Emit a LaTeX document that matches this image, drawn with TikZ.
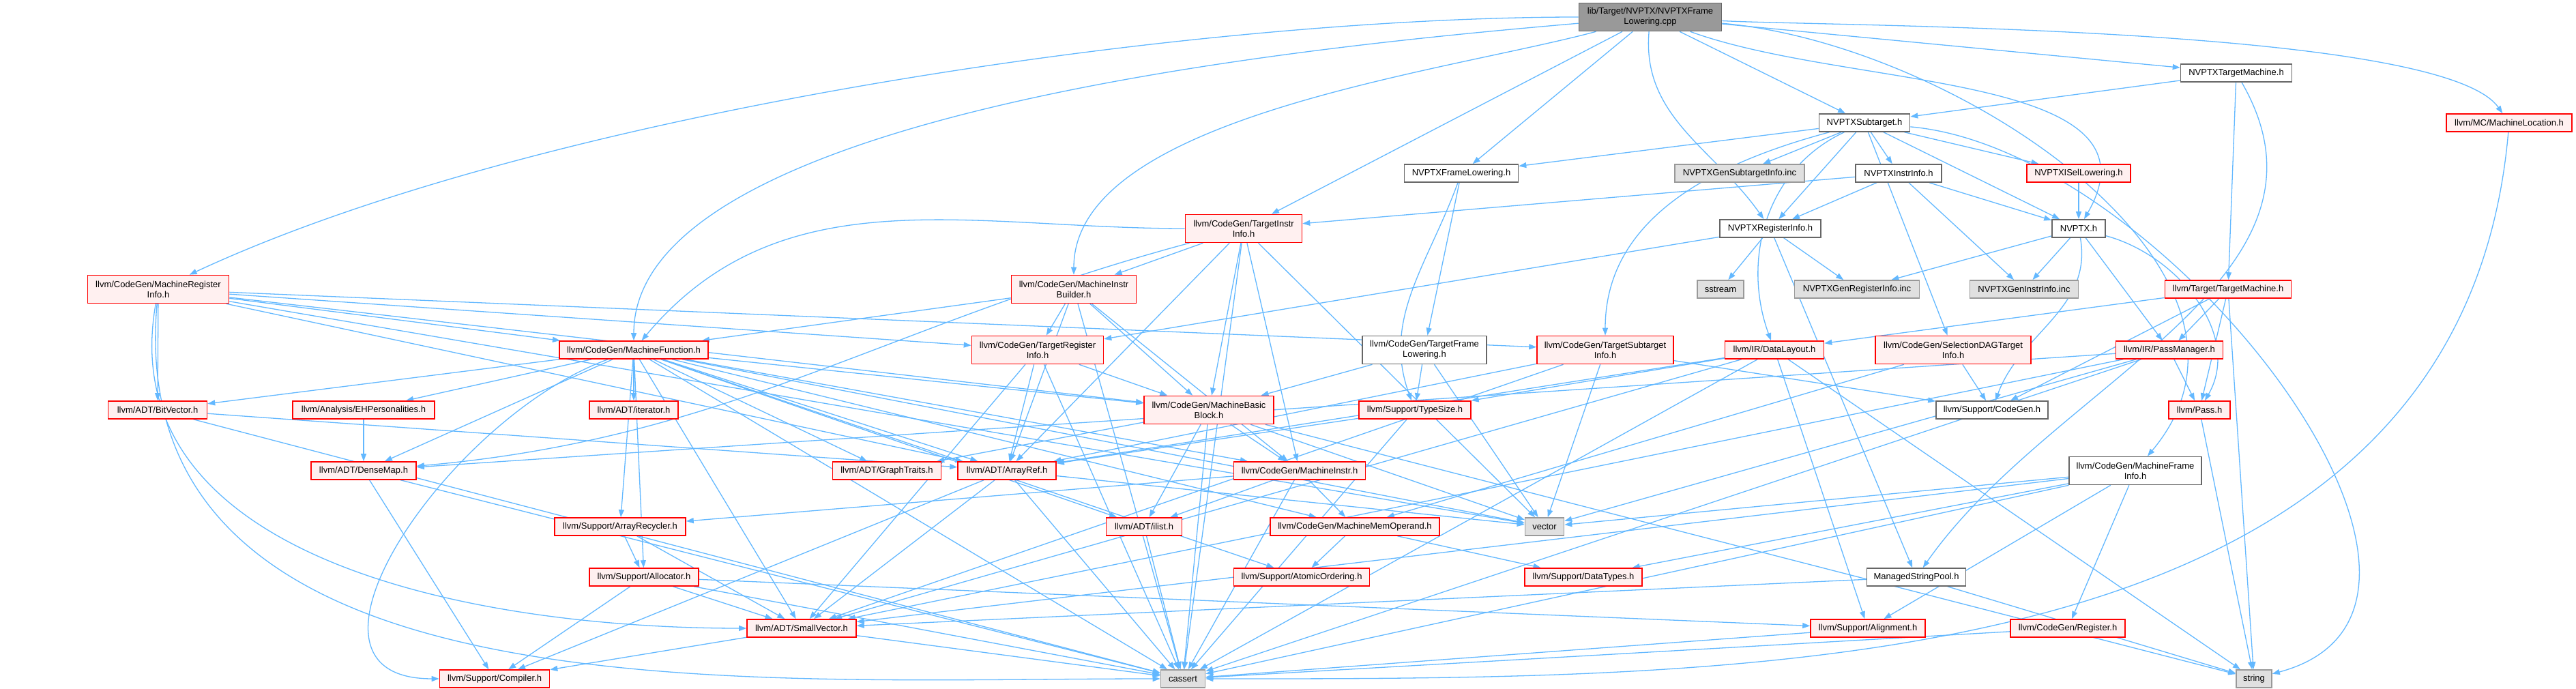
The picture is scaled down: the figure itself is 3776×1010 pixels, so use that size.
\documentclass[tikz,border=0pt]{standalone}
\usepackage{fontspec}
\setsansfont{Liberation Sans}
\usepackage{xcolor}
\usepackage{tikz}
\usetikzlibrary{arrows.meta,backgrounds}
\definecolor{hdrblue}{HTML}{63B8FF}
\definecolor{hdrred}{HTML}{FF0000}
\definecolor{hdrpink}{HTML}{FFF0F0}
\definecolor{hdrgrey}{HTML}{999999}
\definecolor{hdrdark}{HTML}{666666}
\definecolor{hdrlight}{HTML}{E0E0E0}
% one pixel of the picture is 0.2pt
\tikzset{
  hdrw/.style     = {minimum width=#1*0.2pt},
  hdrbase/.style  = {rectangle, line width=0.32pt, align=center, inner sep=0.4pt,
                     font=\sffamily\fontsize{2.6}{3}\selectfont, minimum height=5.2pt},
  hdrroot/.style  = {hdrbase, draw=hdrdark, fill=hdrgrey, minimum height=8.2pt},
  hdrplain/.style = {hdrbase, draw=hdrdark, fill=white},
  hdrtrunc/.style = {hdrbase, draw=hdrred, fill=hdrpink},
  hdrsys/.style   = {hdrbase, draw=hdrgrey, fill=hdrlight},
  hdrtall/.style  = {minimum height=8.2pt},
  hdrflow/.style  = {-{Triangle[length=2.2pt,width=1.6pt]}, draw=hdrblue, line width=0.26pt},
}

\begin{document}
\begin{tikzpicture}[x=0.2pt,y=-0.2pt]
  \useasboundingbox (0,0) rectangle (3776,1010);

  \node[hdrroot, hdrw=209] (main) at (2419,25) {lib/Target/NVPTX/NVPTXFrame\\Lowering.cpp};

  \node[hdrplain, hdrw=163] (ntm)  at (3278,107) {NVPTXTargetMachine.h};
  \node[hdrplain, hdrw=133] (nst)  at (2733,180) {NVPTXSubtarget.h};
  \node[hdrtrunc, hdrw=184] (mloc) at (3678,180) {llvm/MC/MachineLocation.h};

  \node[hdrplain, hdrw=167] (nfl)   at (2142,254) {NVPTXFrameLowering.h};
  \node[hdrsys,   hdrw=190] (gsi)   at (2550,254) {NVPTXGenSubtargetInfo.inc};
  \node[hdrplain, hdrw=126] (nii)   at (2783,254) {NVPTXInstrInfo.h};
  \node[hdrtrunc, hdrw=152] (nisel) at (3047,254) {NVPTXISelLowering.h};

  \node[hdrtrunc, hdrtall, hdrw=171] (tii) at (1823,335) {llvm/CodeGen/TargetInstr\\Info.h};
  \node[hdrplain, hdrw=148] (nri)   at (2595,335) {NVPTXRegisterInfo.h};
  \node[hdrplain, hdrw=78]  (nvptx) at (3047,335) {NVPTX.h};

  \node[hdrtrunc, hdrtall, hdrw=207] (mri) at (232,424)  {llvm/CodeGen/MachineRegister\\Info.h};
  \node[hdrtrunc, hdrtall, hdrw=183] (mib) at (1574,424) {llvm/CodeGen/MachineInstr\\Builder.h};
  \node[hdrsys,   hdrw=68]  (sstream) at (2522,424) {sstream};
  \node[hdrsys,   hdrw=183] (gri)     at (2722,424) {NVPTXGenRegisterInfo.inc};
  \node[hdrsys,   hdrw=159] (gii)     at (2967,424) {NVPTXGenInstrInfo.inc};
  \node[hdrtrunc, hdrw=185] (tm)      at (3266,424) {llvm/Target/TargetMachine.h};

  \node[hdrtrunc, hdrw=218] (mf) at (929,513) {llvm/CodeGen/MachineFunction.h};
  \node[hdrtrunc, hdrtall, hdrw=193] (tri)  at (1521,513) {llvm/CodeGen/TargetRegister\\Info.h};
  \node[hdrplain, hdrtall, hdrw=182] (tfl)  at (2088,513) {llvm/CodeGen/TargetFrame\\Lowering.h};
  \node[hdrtrunc, hdrtall, hdrw=200] (tsi)  at (2353,513) {llvm/CodeGen/TargetSubtarget\\Info.h};
  \node[hdrtrunc, hdrw=145] (dl) at (2601,513) {llvm/IR/DataLayout.h};
  \node[hdrtrunc, hdrtall, hdrw=228] (sdag) at (2863,513) {llvm/CodeGen/SelectionDAGTarget\\Info.h};
  \node[hdrtrunc, hdrw=157] (pm) at (3180,513) {llvm/IR/PassManager.h};

  \node[hdrtrunc, hdrw=145] (bv)   at (231,601)  {llvm/ADT/BitVector.h};
  \node[hdrtrunc, hdrw=208] (ehp)  at (533,601)  {llvm/Analysis/EHPersonalities.h};
  \node[hdrtrunc, hdrw=130] (iter) at (929,601)  {llvm/ADT/iterator.h};
  \node[hdrtrunc, hdrtall, hdrw=190] (mbb) at (1772,601) {llvm/CodeGen/MachineBasic\\Block.h};
  \node[hdrtrunc, hdrw=164] (ts)   at (2074,601) {llvm/Support/TypeSize.h};
  \node[hdrplain, hdrw=164] (scg)  at (2920,601) {llvm/Support/CodeGen.h};
  \node[hdrtrunc, hdrw=90]  (pass) at (3224,601) {llvm/Pass.h};

  \node[hdrtrunc, hdrw=154] (dm) at (533,690)  {llvm/ADT/DenseMap.h};
  \node[hdrtrunc, hdrw=159] (gt) at (1300,690) {llvm/ADT/GraphTraits.h};
  \node[hdrtrunc, hdrw=144] (ar) at (1476,690) {llvm/ADT/ArrayRef.h};
  \node[hdrtrunc, hdrw=193] (mi) at (1905,690) {llvm/CodeGen/MachineInstr.h};
  \node[hdrplain, hdrtall, hdrw=194] (mfi) at (3130,690) {llvm/CodeGen/MachineFrame\\Info.h};

  \node[hdrtrunc, hdrw=192] (arec)   at (909,772)  {llvm/Support/ArrayRecycler.h};
  \node[hdrtrunc, hdrw=111] (ilist)  at (1677,772) {llvm/ADT/ilist.h};
  \node[hdrtrunc, hdrw=248] (mmo)    at (1986,772) {llvm/CodeGen/MachineMemOperand.h};
  \node[hdrsys,   hdrw=57]  (vector) at (2264,772) {vector};

  \node[hdrtrunc, hdrw=160] (alloc) at (944,846)  {llvm/Support/Allocator.h};
  \node[hdrtrunc, hdrw=199] (ao)    at (1908,846) {llvm/Support/AtomicOrdering.h};
  \node[hdrtrunc, hdrw=172] (dt)    at (2321,846) {llvm/Support/DataTypes.h};
  \node[hdrplain, hdrw=145] (msp)   at (2809,846) {ManagedStringPool.h};

  \node[hdrtrunc, hdrw=160] (sv)    at (1175,921) {llvm/ADT/SmallVector.h};
  \node[hdrtrunc, hdrw=168] (align) at (2738,921) {llvm/Support/Alignment.h};
  \node[hdrtrunc, hdrw=168] (reg)   at (3031,921) {llvm/CodeGen/Register.h};

  \node[hdrtrunc, hdrw=161] (comp)    at (725,995)  {llvm/Support/Compiler.h};
  \node[hdrsys,   hdrw=65]  (cassert) at (1734,995) {cassert};
  \node[hdrsys,   hdrw=52]  (string)  at (3304,995) {string};

  % include edges, kept under the boxes
  \begin{scope}[on background layer]
  \draw[hdrflow] (main) -- (nfl);  \draw[hdrflow] (main) -- (nst);  \draw[hdrflow] (main) -- (ntm);  \draw[hdrflow] (main) -- (tii);
  \draw[hdrflow] (main) to[out=180,in=25,looseness=0.7] (mri);
  \draw[hdrflow] (main) to[out=185,in=90,looseness=0.6] (mf);
  \draw[hdrflow] (main) to[out=195,in=90,looseness=0.7] (mib);
  \draw[hdrflow] (main) to[out=-95,in=125] (nri);
  \draw[hdrflow] (main) to[out=-20,in=60] (nvptx);
  \draw[hdrflow] (main) to[out=-3,in=125,looseness=0.35] (mloc);
  \draw[hdrflow] (main) to[out=-5,in=50] (mfi);

  \draw[hdrflow] (nfl) -- (tfl);  \draw[hdrflow] (nfl) to[out=-110,in=110] (ts);
  \draw[hdrflow] (ntm) -- (nst);  \draw[hdrflow] (ntm) -- (tm);  \draw[hdrflow] (ntm) to[out=-60,in=55] (msp);

  \draw[hdrflow] (nst) -- (nfl);  \draw[hdrflow] (nst) -- (gsi);  \draw[hdrflow] (nst) -- (nii);  \draw[hdrflow] (nst) -- (nri);
  \draw[hdrflow] (nst) -- (nisel);  \draw[hdrflow] (nst) -- (nvptx);  \draw[hdrflow] (nst) -- (sdag);
  \draw[hdrflow] (nst) to[out=195,in=90] (tsi);
  \draw[hdrflow] (nst) to[out=205,in=110] (dl);
  \draw[hdrflow] (nst) to[out=-5,in=15] (string);

  \draw[hdrflow] (nii) -- (nvptx);  \draw[hdrflow] (nii) -- (nri);  \draw[hdrflow] (nii) -- (tii);  \draw[hdrflow] (nii) -- (gii);
  \draw[hdrflow] (nisel) -- (nvptx);
  \draw[hdrflow] (nri) -- (msp);  \draw[hdrflow] (nri) -- (tri);  \draw[hdrflow] (nri) -- (sstream);  \draw[hdrflow] (nri) -- (gri);
  \draw[hdrflow] (nvptx) -- (pm);  \draw[hdrflow] (nvptx) -- (gii);  \draw[hdrflow] (nvptx) -- (gri);
  \draw[hdrflow] (nvptx) to[out=-15,in=60] (pass);
  \draw[hdrflow] (nvptx) to[out=-80,in=70] (scg);
  \draw[hdrflow] (tm) -- (dl);  \draw[hdrflow] (tm) -- (scg);  \draw[hdrflow] (tm) -- (pm);  \draw[hdrflow] (tm) -- (pass);  \draw[hdrflow] (tm) -- (string);

  \draw[hdrflow] (tii) to[out=180,in=50] (mf);
  \draw[hdrflow] (tii) to[out=195,in=5] (dm);
  \draw[hdrflow] (tii) -- (mib);  \draw[hdrflow] (tii) -- (ar);  \draw[hdrflow] (tii) -- (mbb);  \draw[hdrflow] (tii) -- (mi);
  \draw[hdrflow] (tii) -- (vector);  \draw[hdrflow] (tii) -- (cassert);

  \draw[hdrflow] (mri) -- (mf);  \draw[hdrflow] (mri) -- (bv);  \draw[hdrflow] (mri) -- (tri);  \draw[hdrflow] (mri) -- (tsi);
  \draw[hdrflow] (mri) -- (mbb);  \draw[hdrflow] (mri) -- (ar);  \draw[hdrflow] (mri) -- (vector);
  \draw[hdrflow] (mri) to[out=-100,in=180] (sv);
  \draw[hdrflow] (mri) to[out=-95,in=180] (cassert);

  \draw[hdrflow] (mib) -- (mf);  \draw[hdrflow] (mib) -- (tri);  \draw[hdrflow] (mib) -- (mbb);  \draw[hdrflow] (mib) -- (mi);
  \draw[hdrflow] (mib) -- (ar);  \draw[hdrflow] (mib) -- (cassert);

  \draw[hdrflow] (mf) -- (ar);  \draw[hdrflow] (mf) -- (bv);  \draw[hdrflow] (mf) -- (dm);  \draw[hdrflow] (mf) -- (gt);
  \draw[hdrflow] (mf) -- (sv);  \draw[hdrflow] (mf) -- (ilist);  \draw[hdrflow] (mf) -- (iter);  \draw[hdrflow] (mf) -- (ehp);
  \draw[hdrflow] (mf) -- (mbb);  \draw[hdrflow] (mf) -- (mi);  \draw[hdrflow] (mf) -- (mmo);  \draw[hdrflow] (mf) -- (alloc);
  \draw[hdrflow] (mf) -- (arec);  \draw[hdrflow] (mf) -- (ao);  \draw[hdrflow] (mf) -- (cassert);  \draw[hdrflow] (mf) -- (vector);
  \draw[hdrflow] (mf) to[out=200,in=180,looseness=1.2] (comp);

  \draw[hdrflow] (tri) -- (sv);  \draw[hdrflow] (tri) -- (ar);  \draw[hdrflow] (tri) -- (cassert);  \draw[hdrflow] (tri) -- (mbb);
  \draw[hdrflow] (tfl) -- (mbb);  \draw[hdrflow] (tfl) -- (ts);  \draw[hdrflow] (tfl) -- (vector);
  \draw[hdrflow] (tsi) -- (ar);  \draw[hdrflow] (tsi) -- (sv);  \draw[hdrflow] (tsi) -- (vector);  \draw[hdrflow] (tsi) -- (scg);
  \draw[hdrflow] (dl) -- (ts);  \draw[hdrflow] (dl) -- (ar);  \draw[hdrflow] (dl) -- (sv);  \draw[hdrflow] (dl) -- (cassert);
  \draw[hdrflow] (dl) -- (align);  \draw[hdrflow] (dl) -- (string);
  \draw[hdrflow] (sdag) -- (mmo);  \draw[hdrflow] (sdag) -- (scg);
  \draw[hdrflow] (pm) -- (pass);  \draw[hdrflow] (pm) -- (dm);  \draw[hdrflow] (pm) -- (sv);  \draw[hdrflow] (pm) -- (cassert);  \draw[hdrflow] (pm) -- (vector);
  \draw[hdrflow] (pass) -- (string);

  \draw[hdrflow] (bv) -- (ar);  \draw[hdrflow] (bv) -- (cassert);
  \draw[hdrflow] (ehp) -- (dm);
  \draw[hdrflow] (mbb) -- (gt);  \draw[hdrflow] (mbb) -- (ilist);  \draw[hdrflow] (mbb) -- (mi);  \draw[hdrflow] (mbb) -- (cassert);
  \draw[hdrflow] (mbb) -- (vector);  \draw[hdrflow] (mbb) -- (string);
  \draw[hdrflow] (ts) -- (ar);  \draw[hdrflow] (ts) -- (cassert);

  \draw[hdrflow] (dm) -- (comp);  \draw[hdrflow] (dm) -- (cassert);
  \draw[hdrflow] (ar) -- (sv);  \draw[hdrflow] (ar) -- (comp);  \draw[hdrflow] (ar) -- (cassert);  \draw[hdrflow] (ar) -- (vector);
  \draw[hdrflow] (mi) -- (arec);  \draw[hdrflow] (mi) -- (ilist);  \draw[hdrflow] (mi) -- (mmo);  \draw[hdrflow] (mi) -- (cassert);
  \draw[hdrflow] (mfi) -- (vector);  \draw[hdrflow] (mfi) -- (dt);  \draw[hdrflow] (mfi) -- (sv);  \draw[hdrflow] (mfi) -- (align);
  \draw[hdrflow] (mfi) -- (reg);  \draw[hdrflow] (mfi) -- (cassert);

  \draw[hdrflow] (arec) -- (alloc);  \draw[hdrflow] (arec) -- (sv);
  \draw[hdrflow] (ilist) -- (cassert);
  \draw[hdrflow] (mmo) -- (ao);  \draw[hdrflow] (mmo) -- (dt);
  \draw[hdrflow] (alloc) -- (comp);  \draw[hdrflow] (alloc) -- (align);  \draw[hdrflow] (alloc) -- (sv);  \draw[hdrflow] (alloc) -- (cassert);
  \draw[hdrflow] (msp) -- (sv);  \draw[hdrflow] (msp) -- (string);
  \draw[hdrflow] (sv) -- (comp);  \draw[hdrflow] (sv) -- (cassert);
  \draw[hdrflow] (align) -- (cassert);
  \draw[hdrflow] (reg) -- (cassert);
  \draw[hdrflow] (mloc) to[out=-95,in=0] (cassert);
  \end{scope}
\end{tikzpicture}
\end{document}
